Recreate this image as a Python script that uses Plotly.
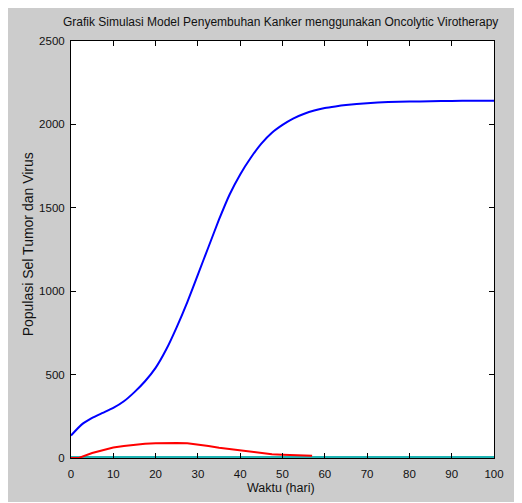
import plotly.graph_objects as go

# ---- data ----
t_tumor = [0, 2.5, 5, 7.5, 10, 12.5, 15, 17.5, 20, 22.5, 25, 27.5, 30, 32.5, 35,
           37.5, 40, 42.5, 45, 47.5, 50, 52.5, 55, 57.5, 60, 62.5, 65, 70, 75,
           80, 85, 90, 95, 100]
tumor = [135, 200, 240, 270, 300, 340, 395, 460, 540, 650, 785, 935, 1100, 1265,
         1430, 1580, 1700, 1800, 1885, 1950, 1997, 2035, 2062, 2083, 2098, 2108,
         2116, 2127, 2134, 2137, 2139, 2141, 2142, 2142]

t_virus = [0, 2, 5, 7.5, 10, 12.5, 15, 17.5, 20, 22.5, 25, 27.5, 30, 32.5, 35,
           37.5, 40, 42.5, 45, 47.5, 50, 52.5, 55, 57]
virus = [0, 2, 30, 48, 63, 72, 79, 85, 88, 90, 90, 89, 82, 72, 62, 54, 47, 39,
         30, 23, 20, 18, 16, 14]

t_other = [0, 25, 50, 75, 100]
other = [3, 3, 3, 3, 3]

x_ticks = [0, 10, 20, 30, 40, 50, 60, 70, 80, 90, 100]
y_ticks = [0, 500, 1000, 1500, 2000, 2500]

title_text = "Grafik Simulasi Model Penyembuhan Kanker menggunakan Oncolytic Virotherapy"
x_label = "Waktu (hari)"
y_label = "Populasi Sel Tumor dan Virus"

# ---- layout geometry (figure pixels; page adds an 8px body margin) ----
W, H = 508, 494
L, R, T, B = 62.5, 14, 33, 44
pw, ph = W - L - R, H - T - B
OFF = 8
FONT = "Liberation Sans, Arial, sans-serif"
TXT = "#111111"
GRAY = "#cccccc"

def px_x(p):
    return (p - OFF - L) / pw

def px_y(p):
    return (H - B - (p - OFF)) / ph

fig = go.Figure()
fig.add_trace(go.Scatter(x=t_other, y=other, mode="lines",
                         line=dict(color="#1fb5b5", width=3), showlegend=False))
fig.add_trace(go.Scatter(x=t_virus, y=virus, mode="lines",
                         line=dict(color="#ff0000", width=2), showlegend=False))
fig.add_trace(go.Scatter(x=t_tumor, y=tumor, mode="lines",
                         line=dict(color="#0000ff", width=2, shape="spline", smoothing=0.5),
                         showlegend=False))

axis_common = dict(showgrid=False, zeroline=False, showline=True, linecolor="black",
                   linewidth=1, ticks="inside", ticklen=5, tickcolor="black",
                   mirror="allticks", tickfont=dict(family=FONT, size=11.5, color=TXT))

fig.update_xaxes(range=[0, 100], tickvals=x_ticks, ticklabelstandoff=5, **axis_common)
fig.update_yaxes(range=[0, 2500], tickvals=y_ticks, ticklabelstandoff=3, **axis_common)

annotations = [
    dict(text=title_text, xref="paper", yref="paper", x=px_x(284), y=px_y(22),
         xanchor="center", yanchor="middle", showarrow=False,
         font=dict(family=FONT, size=12, color=TXT)),
    dict(text=x_label, xref="paper", yref="paper", x=px_x(285), y=px_y(488),
         xanchor="center", yanchor="middle", showarrow=False,
         font=dict(family=FONT, size=12.5, color=TXT)),
    dict(text=y_label, xref="paper", yref="paper", x=px_x(27), y=px_y(244),
         xanchor="center", yanchor="middle", showarrow=False, textangle=-90,
         font=dict(family=FONT, size=14, color=TXT)),
]

fig.update_layout(width=W, height=H, margin=dict(l=L, r=R, t=T, b=B),
                  paper_bgcolor=GRAY, plot_bgcolor="white",
                  annotations=annotations, showlegend=False)

fig.write_html("out.html")
